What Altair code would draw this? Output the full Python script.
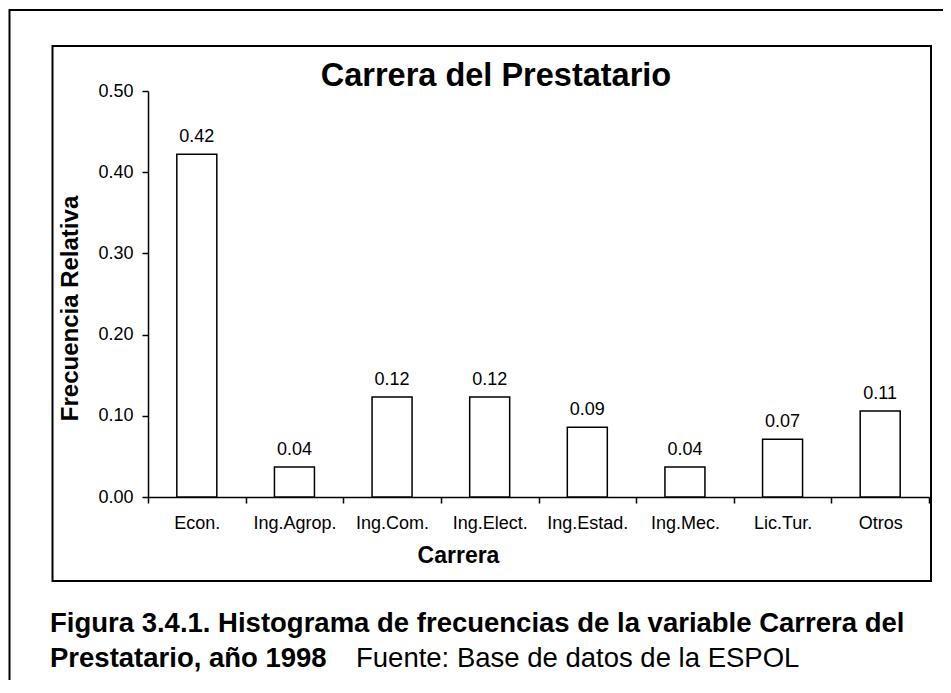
import altair as alt
import pandas as pd

# ---- data ----
categories = ["Econ.", "Ing.Agrop.", "Ing.Com.", "Ing.Elect.", "Ing.Estad.", "Ing.Mec.", "Lic.Tur.", "Otros"]
freq = [0.422, 0.037, 0.123, 0.123, 0.086, 0.037, 0.071, 0.106]
y_ticks = [0.0, 0.1, 0.2, 0.3, 0.4, 0.5]
title_text = "Carrera del Prestatario"
x_title = "Carrera"
y_title = "Frecuencia Relativa"
caption_1 = "Figura 3.4.1. Histograma de frecuencias de la variable Carrera del"
caption_2_bold = "Prestatario, año 1998"
caption_2_regular = "Fuente: Base de datos de la ESPOL"

FONT = "Liberation Sans"
df = pd.DataFrame({"Carrera": categories, "Frecuencia": freq})
one = pd.DataFrame({"k": [0]})

W, H = 781, 406
PL, PT = 140, 83
TOTAL_W, TOTAL_H = 935, 672

x_axis = alt.Axis(
    labelAngle=0, tickBand="extent", grid=False,
    domainColor="black", domainWidth=1.5, tickColor="black", tickWidth=1.5, tickSize=6,
    labelFont=FONT, labelFontSize=18, labelColor="black", labelPadding=11,
    title=x_title, titleFont=FONT, titleFontSize=23, titleFontWeight="bold", titleColor="black",
    titleX=310, titleY=65, titleBaseline="alphabetic",
)
y_axis = alt.Axis(
    values=y_ticks, format=".2f", grid=False,
    domainColor="black", domainWidth=1.5, tickColor="black", tickWidth=1.5, tickSize=6,
    labelFont=FONT, labelFontSize=18, labelColor="black", labelPadding=9,
    title=y_title, titleFont=FONT, titleFontSize=24, titleFontWeight="bold", titleColor="black",
    titlePadding=15, titleY=217,
)
x_scale = alt.Scale(paddingInner=0, paddingOuter=0)
y_scale = alt.Scale(domain=[0, 0.5], nice=False)

outer = alt.Chart(one).mark_rect(fillOpacity=0, stroke="black", strokeWidth=2).encode(
    x=alt.value(-138.5), x2=alt.value(900), y=alt.value(-81), y2=alt.value(700)
)
inner = alt.Chart(one).mark_rect(fillOpacity=0, stroke="black", strokeWidth=2).encode(
    x=alt.value(-95.5), x2=alt.value(783), y=alt.value(-45), y2=alt.value(490)
)

bars = alt.Chart(df).mark_bar(size=40, fill="white", stroke="black", strokeWidth=1.5).encode(
    x=alt.X("Carrera:N", sort=categories, scale=x_scale, axis=x_axis),
    y=alt.Y("Frecuencia:Q", scale=y_scale, axis=y_axis),
)
labels = alt.Chart(df).mark_text(
    font=FONT, fontSize=18, color="black", dy=-12, baseline="alphabetic", align="center"
).encode(
    x=alt.X("Carrera:N", sort=categories),
    y=alt.Y("Frecuencia:Q"),
    text=alt.Text("Frecuencia:Q", format=".2f"),
)

title = alt.Chart(pd.DataFrame({"t": [title_text]})).mark_text(
    font=FONT, fontSize=32.5, fontWeight="bold", color="black", align="center", baseline="alphabetic"
).encode(x=alt.value(348), y=alt.value(-5), text="t:N")

cap1 = alt.Chart(pd.DataFrame({"t": [caption_1]})).mark_text(
    font=FONT, fontSize=27.5, fontWeight="bold", color="black", align="left", baseline="alphabetic"
).encode(x=alt.value(-98), y=alt.value(541), text="t:N")
cap2a = alt.Chart(pd.DataFrame({"t": [caption_2_bold]})).mark_text(
    font=FONT, fontSize=27.5, fontWeight="bold", color="black", align="left", baseline="alphabetic"
).encode(x=alt.value(-98), y=alt.value(576), text="t:N")
cap2b = alt.Chart(pd.DataFrame({"t": [caption_2_regular]})).mark_text(
    font=FONT, fontSize=27.5, color="black", align="left", baseline="alphabetic"
).encode(x=alt.value(208), y=alt.value(576), text="t:N")

chart = alt.layer(outer, inner, bars, labels, title, cap1, cap2a, cap2b).properties(
    width=W, height=H,
    padding={"left": PL, "top": PT, "right": TOTAL_W - PL - W, "bottom": TOTAL_H - PT - H},
    autosize=alt.AutoSizeParams(type="none"),
    background="white",
).configure_view(stroke=None)

chart.save("out.html", embed_options={"renderer": "svg", "actions": False})
